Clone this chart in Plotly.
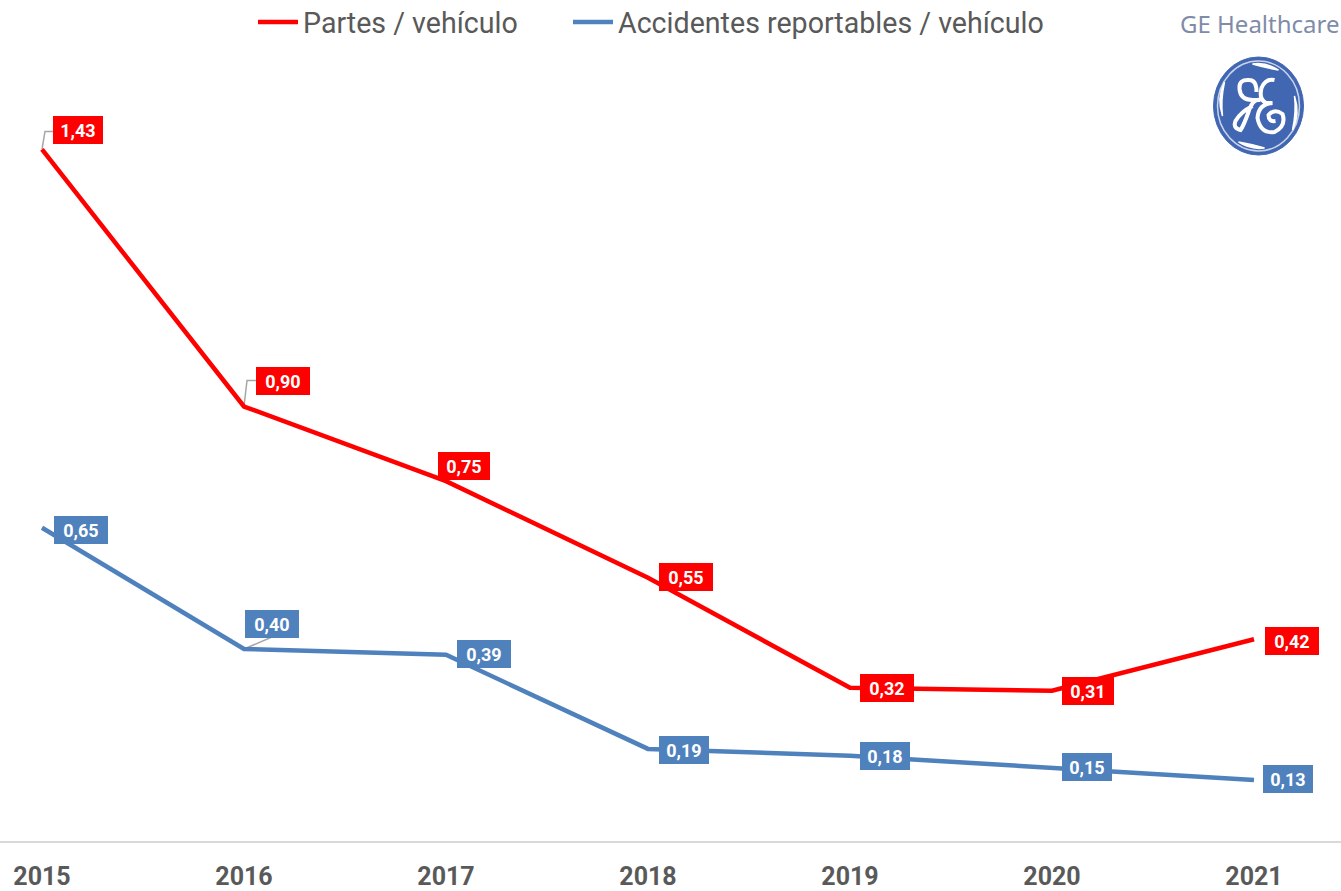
import plotly.graph_objects as go

years = [2015, 2016, 2017, 2018, 2019, 2020, 2021]
partes = [1.43, 0.90, 0.746, 0.547, 0.32, 0.314, 0.42]
accidentes = [0.65, 0.40, 0.388, 0.194, 0.18, 0.155, 0.13]
partes_name = "Partes / vehículo"
accidentes_name = "Accidentes reportables / vehículo"

RED = "#FF0000"
BLUE = "#4F81BD"
GREY = "#595959"
LOGO = "#4267B2"
FONT = "Roboto"

# label offsets from their point, in pixels (dx, dy, box width)
partes_off = [(36, -19, 50), (39, -26, 54), (18, -15, 52), (38, -1, 54), (37, 0, 54), (36, 0, 52), (38, 2, 54)]
accid_off = [(39, 2, 54), (28, -25, 54), (38, -1, 54), (36, 1, 50), (35, 0, 50), (35, -1, 50), (34, -1, 50)]
# leaders: series, index, pixel path relative to point (y up)
leaders = [
    (partes, 0, "M 0 0 L 3 18 L 12 18"),
    (partes, 1, "M 0 0 L 3 26 L 12 26"),
    (accidentes, 1, "M 0 0 L 28 12"),
]
# logo strokes, pixel paths relative to the logo centre (y up)
logo_strokes = [
    "M -2 14 Q -2 26 -9 26 Q -20 27 -19 17 Q -18 6 -6 6 L 2 6 Q -6 8 -10 -6 Q -15 -20 -18 -24 Q -26 -22 -23 -15 Q -18 -6 -6 0",
    "M 16 26 Q 7 28 3 18 Q 0 6 8 3 L 14 3 Q 0 2 -1 -12 Q 2 -28 16 -26 Q 28 -20 24 -8 Q 16 -2 10 -9 Q 10 -16 17 -15",
]
logo_flutes = [
    "M -6 42 Q 8 44 20 36 Q 8 38 -6 42 Z",
    "M 6 -42 Q -8 -44 -20 -36 Q -8 -38 6 -42 Z",
    "M -36 -10 Q -42 8 -34 24 Q -38 6 -36 -10 Z",
    "M 36 10 Q 42 -8 34 -24 Q 38 -6 36 10 Z",
]

fig = go.Figure()
for name, vals, col, leg in [(partes_name, partes, RED, "legend"), (accidentes_name, accidentes, BLUE, "legend2")]:
    fig.add_trace(go.Scatter(x=years, y=vals, name=name, mode="lines", legend=leg,
                             line=dict(color=col, width=4.5), hoverinfo="skip"))

def fmt(v):
    return f"{v:.2f}".replace(".", ",")

anns = []
for vals, offs, col in [(partes, partes_off, RED), (accidentes, accid_off, BLUE)]:
    for x, v, (dx, dy, w) in zip(years, vals, offs):
        anns.append(dict(x=x, y=v, xref="x", yref="y", text=f"<b>{fmt(v)}</b>", showarrow=False,
                         xshift=dx, yshift=-dy, width=w, height=28, align="center", valign="middle",
                         xanchor="center", yanchor="middle", bgcolor=col, borderpad=0, borderwidth=0,
                         font=dict(family=FONT, size=18, color="white")))

anns.append(dict(x=1259.5 / 1341, y=1, xref="paper", yref="paper", yanchor="middle",
                 xanchor="center", text="GE Healthcare", showarrow=False, yshift=-23,
                 font=dict(family="Noto Sans", size=24, color="#7F8CA8")))

LOGO_X, LOGO_Y = 1258.5 / 1341, 1 - 106 / 841
shapes = []
for vals, i, path in leaders:
    shapes.append(dict(type="path", xsizemode="pixel", ysizemode="pixel", xanchor=years[i], yanchor=vals[i],
                       xref="x", yref="y", path=path, line=dict(color="#A6A6A6", width=1.5), layer="below"))
logo_common = dict(type="path", xsizemode="pixel", ysizemode="pixel", xanchor=LOGO_X, yanchor=LOGO_Y,
                   xref="paper", yref="paper")
shapes.append(dict(logo_common, type="circle", x0=-45, x1=45, y0=-49, y1=49, fillcolor=LOGO, line=dict(color=LOGO, width=1)))
shapes.append(dict(logo_common, type="circle", x0=-41, x1=41, y0=-45, y1=45, fillcolor="rgba(0,0,0,0)",
                   line=dict(color="#C9D4EA", width=1.5)))
for p in logo_flutes:
    shapes.append(dict(logo_common, path=p, fillcolor="white", line=dict(color="white", width=1.5)))
for p in logo_strokes:
    shapes.append(dict(logo_common, path=p, line=dict(color="white", width=4)))

legend_style = dict(orientation="h", xanchor="left", yanchor="top", y=1 + 3 / 841,
                    font=dict(family=FONT, size=28.6, color=GREY), itemwidth=40, bgcolor="rgba(0,0,0,0)")

PX = 485.0
fig.update_layout(
    width=1341, height=891, autosize=False,
    margin=dict(l=0, r=0, t=0, b=50, autoexpand=False),
    paper_bgcolor="white", plot_bgcolor="white",
    showlegend=True,
    legend=dict(legend_style, x=253 / 1341),
    legend2=dict(legend_style, x=568 / 1341),
    xaxis=dict(range=[2015 - 42 / 202, 2015 + (1341 - 42) / 202], tickvals=years, ticktext=[str(y) for y in years],
               showgrid=False, zeroline=False, showline=True, linecolor="#D9D9D9", linewidth=2,
               ticks="outside", ticklen=12, tickcolor="rgba(0,0,0,0)",
               tickfont=dict(family=FONT, size=25, color=GREY, weight="bold")),
    yaxis=dict(range=[2 / PX, 843 / PX], visible=False, showgrid=False, zeroline=False),
    annotations=anns, shapes=shapes,
)
fig.write_html("out.html", config={"displayModeBar": False},
               post_script="document.body.style.margin='0';document.body.style.overflow='hidden';")
